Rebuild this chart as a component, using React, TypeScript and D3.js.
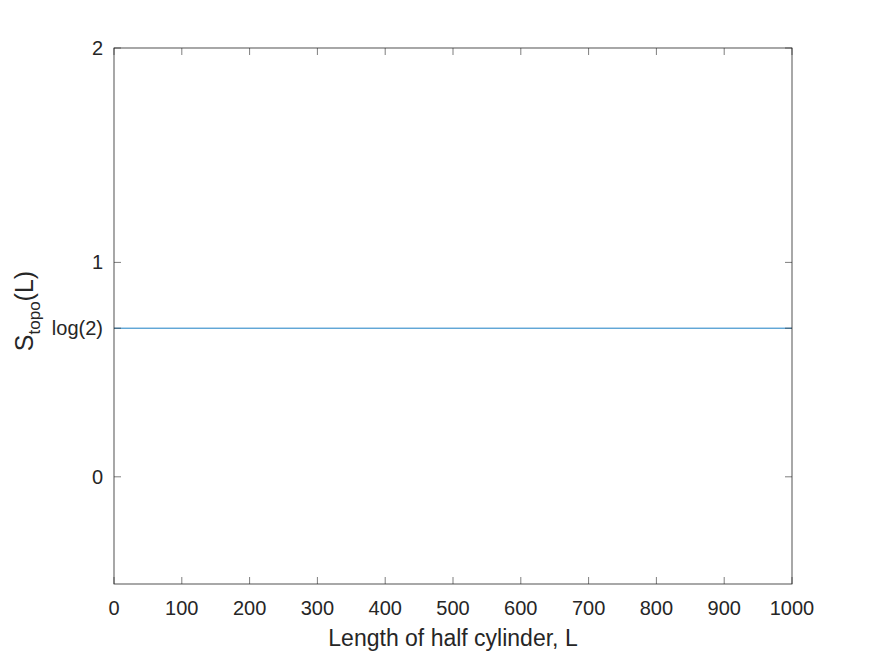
import React from "react";
import { scaleLinear, line } from "d3";

const xTicks = [0, 100, 200, 300, 400, 500, 600, 700, 800, 900, 1000];
const yTicks = [0, Math.log(2), 1, 2];
const yTickLabels = ["0", "log(2)", "1", "2"];
const lineX = [0, 1000];
const lineY = [Math.log(2), Math.log(2)];

const width = 875;
const height = 656;
const margin = { top: 48, right: 83, bottom: 72, left: 114 };

const App = () => {
  const innerWidth = width - margin.left - margin.right;
  const innerHeight = height - margin.top - margin.bottom;

  const xScale = scaleLinear().domain([0, 1000]).range([0, innerWidth]);
  const yScale = scaleLinear().domain([-0.5, 2]).range([innerHeight, 0]);

  const path = line<number>()
    .x((d, i) => xScale(lineX[i]))
    .y((d) => yScale(d))(lineY);

  const font = "'Liberation Sans', Arial, Helvetica, sans-serif";
  const textColor = "#262626";
  const axisColor = "#262626";
  const tickLen = 7;

  return (
    <svg
      width={width}
      height={height}
      style={{ position: "absolute", left: 0, top: 0, background: "#fff" }}
      fontFamily={font}
    >
      <g transform={`translate(${margin.left}, ${margin.top})`}>
        <rect x={0} y={0} width={innerWidth} height={innerHeight} fill="#fff" />

        {/* data line */}
        <path d={path || ""} fill="none" stroke="#0072BD" strokeWidth={0.9} />

        {/* x ticks (bottom & top, inward) */}
        {xTicks.map((t, i) => (
          <g key={i} transform={`translate(${xScale(t)}, 0)`}>
            <line y1={innerHeight} y2={innerHeight - tickLen} stroke={axisColor} strokeWidth={0.6} />
            <line y1={0} y2={tickLen} stroke={axisColor} strokeWidth={0.6} />
            <text
              y={innerHeight + 31}
              textAnchor="middle"
              fontSize={20}
              fill={textColor}
            >
              {t}
            </text>
          </g>
        ))}

        {/* y ticks (left & right, inward) */}
        {yTicks.map((t, i) => (
          <g key={i} transform={`translate(0, ${yScale(t)})`}>
            <line x1={0} x2={tickLen} stroke={axisColor} strokeWidth={0.6} />
            <line x1={innerWidth} x2={innerWidth - tickLen} stroke={axisColor} strokeWidth={0.6} />
            <text
              x={-11}
              dy="0.35em"
              textAnchor="end"
              fontSize={20}
              fill={textColor}
            >
              {yTickLabels[i]}
            </text>
          </g>
        ))}

        {/* box */}
        <rect
          x={0}
          y={0}
          width={innerWidth}
          height={innerHeight}
          fill="none"
          stroke={axisColor}
          strokeWidth={0.8}
        />

        {/* x label */}
        <text
          x={innerWidth / 2}
          y={innerHeight + 62}
          textAnchor="middle"
          fontSize={23}
          fill={textColor}
        >
          Length of half cylinder, L
        </text>

        {/* y label */}
        <text
          transform={`translate(${-81}, ${innerHeight / 2 - 5}) rotate(-90)`}
          textAnchor="middle"
          fontSize={25}
          fill={textColor}
        >
          S
          <tspan fontSize={17} dy={7}>topo</tspan>
          <tspan dy={-7}>(L)</tspan>
        </text>
      </g>
    </svg>
  );
};

export default App;
